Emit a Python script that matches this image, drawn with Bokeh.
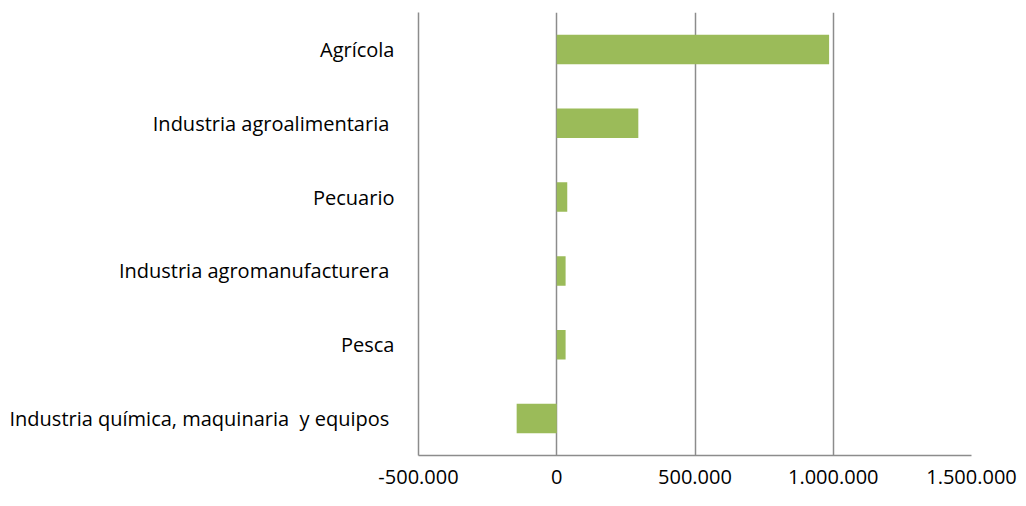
from bokeh.plotting import figure
from bokeh.models import Range1d, FixedTicker, FactorRange
from bokeh.embed import file_html
from bokeh.resources import INLINE

categories = ["Agrícola", "Industria agroalimentaria ", "Pecuario",
              "Industria agromanufacturera ", "Pesca",
              "Industria química, maquinaria\u00a0 y equipos "]
values = [985000, 295000, 38000, 32000, 32000, -145000]
tick_values = [-500000, 0, 500000, 1000000, 1500000]
tick_labels = ["-500.000", "0", "500.000", "1.000.000", "1.500.000"]

FONT = "Open Sans"
GRAY = "#8c8c8c"

p = figure(frame_width=553, frame_height=443, output_backend="svg", toolbar_location=None,
           y_range=FactorRange(*list(reversed(categories))),
           x_range=Range1d(-500000, 1500000),
           min_border_left=418, min_border_right=47,
           min_border_top=12, min_border_bottom=43)

p.hbar(y=categories, right=values, left=0, height=0.4,
       fill_color="#9BBB59", line_color=None)

p.outline_line_color = None
p.ygrid.grid_line_color = None
p.xgrid.ticker = FixedTicker(ticks=tick_values)
p.xgrid.grid_line_color = GRAY
p.xgrid.grid_line_width = 1.5

p.xaxis.ticker = FixedTicker(ticks=tick_values)
p.xaxis.major_label_overrides = {v: l for v, l in zip(tick_values, tick_labels)}
p.xaxis.axis_line_color = GRAY
p.xaxis.axis_line_width = 1.5
p.xaxis.major_tick_line_color = None
p.xaxis.minor_tick_line_color = None
p.xaxis.major_tick_out = 0
p.xaxis.major_tick_in = 0
p.xaxis.major_label_standoff = 14
p.xaxis.major_label_text_font = FONT
p.xaxis.major_label_text_font_size = "20px"
p.xaxis.major_label_text_color = "#000000"

p.yaxis.axis_line_color = GRAY
p.yaxis.axis_line_width = 1.5
p.yaxis.major_tick_line_color = None
p.yaxis.minor_tick_line_color = None
p.yaxis.major_tick_out = 0
p.yaxis.major_tick_in = 0
p.yaxis.major_label_standoff = 24
p.yaxis.major_label_text_font = FONT
p.yaxis.major_label_text_font_size = "20px"
p.yaxis.major_label_text_color = "#000000"

open("out.html", "w").write(file_html(p, INLINE))
